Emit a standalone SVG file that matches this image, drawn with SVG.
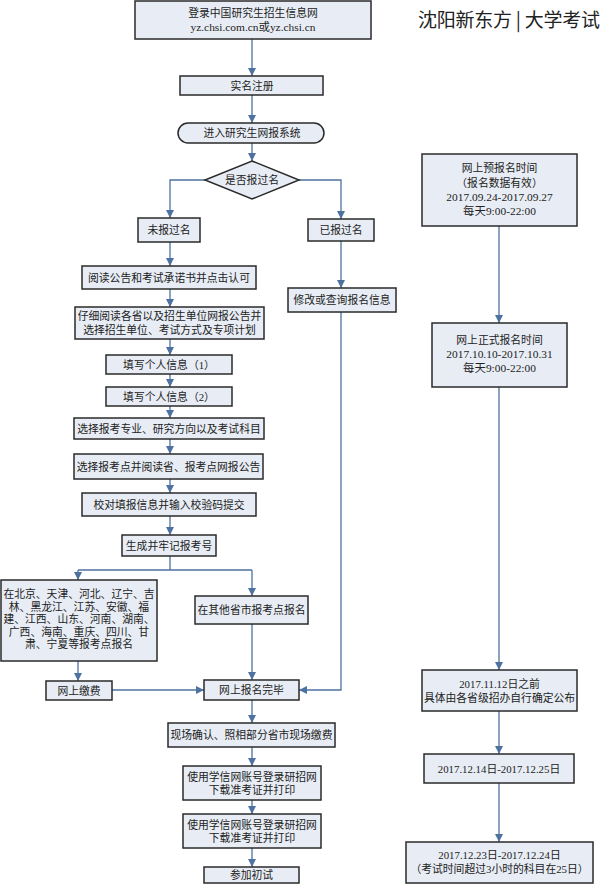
<svg xmlns="http://www.w3.org/2000/svg" width="608" height="884" viewBox="0 0 608 884">
<defs>
<marker id="ah" markerWidth="8" markerHeight="8" refX="8" refY="4" orient="auto" markerUnits="userSpaceOnUse">
<path d="M0,0 L8,4 L0,8 z" fill="#4d72a0"/>
</marker>
<style>
.b{fill:#e8edf5;stroke:#2a2a2a;stroke-width:1.5}
.t{font-family:"Liberation Serif","Noto Sans CJK SC",serif;font-size:10.8px;fill:#222;text-anchor:middle;dominant-baseline:central}
.l{font-size:11.4px}
.c{fill:none;stroke:#4d72a0;stroke-width:1.3}
.a{marker-end:url(#ah)}
</style>
</defs>
<rect width="608" height="884" fill="#fff"/>
<text x="418" y="27" font-family="'Noto Sans CJK SC',sans-serif" font-size="19" fill="#222" textLength="182">沈阳新东方 | 大学考试</text>
<g id="connectors">
<path class="c a" d="M252,39 V76"/>
<path class="c a" d="M252,95 V123"/>
<path class="c a" d="M252,143 V161"/>
<path class="c a" d="M205,180 H170 V218"/>
<path class="c a" d="M299,180 H341 V219"/>
<path class="c a" d="M170,242 V266"/>
<path class="c a" d="M341,241 V288"/>
<path class="c a" d="M170,289 V307"/>
<path class="c a" d="M170,339 V355"/>
<path class="c a" d="M170,374 V387"/>
<path class="c a" d="M170,406 V418"/>
<path class="c a" d="M170,439 V454"/>
<path class="c a" d="M170,479 V493"/>
<path class="c a" d="M170,516 V535"/>
<path class="c" d="M170,556 V570 M78,570 H252"/>
<path class="c a" d="M78,570 V580"/>
<path class="c a" d="M252,570 V596"/>
<path class="c a" d="M78,661 V681"/>
<path class="c a" d="M252,624 V680"/>
<path class="c a" d="M112,690 H204"/>
<path class="c a" d="M341,312 V690 H299"/>
<path class="c a" d="M252,700 V723"/>
<path class="c a" d="M252,747 V766"/>
<path class="c a" d="M252,800 V814"/>
<path class="c a" d="M252,848 V867"/>
<path class="c a" d="M499,226 V323"/>
<path class="c a" d="M499,387 V670"/>
<path class="c a" d="M499,711 V754"/>
<path class="c a" d="M499,783 V842"/>
</g>
<g id="n1"><rect class="b" x="135" y="1" width="236" height="38"/><text class="t" x="253" y="13">登录中国研究生招生信息网</text><text class="t l" x="253" y="27">yz.chsi.com.cn或yz.chsi.cn</text></g>
<g id="n2"><rect class="b" x="180" y="76" width="143" height="19"/><text class="t" x="252" y="85.5">实名注册</text></g>
<g id="n3"><rect class="b" x="178" y="123" width="146" height="20" rx="10"/><text class="t" x="252" y="133">进入研究生网报系统</text></g>
<g id="n4"><polygon class="b" points="252,161 299,180 252,199 205,180"/><text class="t" x="252" y="180">是否报过名</text></g>
<g id="n5"><rect class="b" x="138" y="218" width="62" height="24"/><text class="t" x="169" y="230">未报过名</text></g>
<g id="n6"><rect class="b" x="308" y="219" width="66" height="22"/><text class="t" x="341" y="230">已报过名</text></g>
<g id="n7"><rect class="b" x="82" y="266" width="174" height="23"/><text class="t" x="169" y="277.5">阅读公告和考试承诺书并点击认可</text></g>
<g id="n8"><rect class="b" x="288" y="288" width="108" height="24"/><text class="t" x="342" y="300">修改或查询报名信息</text></g>
<g id="n9"><rect class="b" x="75" y="307" width="189" height="32"/><text class="t" x="169.5" y="315.5">仔细阅读各省以及招生单位网报公告并</text><text class="t" x="169.5" y="329.5">选择招生单位、考试方式及专项计划</text></g>
<g id="n10"><rect class="b" x="106" y="355" width="126" height="19"/><text class="t" x="169" y="364.5">填写个人信息（1）</text></g>
<g id="n11"><rect class="b" x="106" y="387" width="126" height="19"/><text class="t" x="169" y="396.5">填写个人信息（2）</text></g>
<g id="n12"><rect class="b" x="74" y="418" width="190" height="21"/><text class="t" x="169" y="428.5">选择报考专业、研究方向以及考试科目</text></g>
<g id="n13"><rect class="b" x="74" y="454" width="189" height="25"/><text class="t" x="168.5" y="466.5">选择报考点并阅读省、报考点网报公告</text></g>
<g id="n14"><rect class="b" x="82" y="493" width="174" height="23"/><text class="t" x="169" y="504.5">校对填报信息并输入校验码提交</text></g>
<g id="n15"><rect class="b" x="122" y="535" width="94" height="21"/><text class="t" x="169" y="545.5">生成并牢记报考号</text></g>
<g id="n16"><rect class="b" x="1" y="580" width="156" height="81"/><text class="t" x="79" y="594">在北京、天津、河北、辽宁、吉</text><text class="t" x="79" y="606.5">林、黑龙江、江苏、安徽、福</text><text class="t" x="79" y="619">建、江西、山东、河南、湖南、</text><text class="t" x="79" y="631.5">广西、海南、重庆、四川、甘</text><text class="t" x="79" y="644">肃、宁夏等报考点报名</text></g>
<g id="n17"><rect class="b" x="195" y="596" width="113" height="28"/><text class="t" x="251.5" y="610">在其他省市报考点报名</text></g>
<g id="n18"><rect class="b" x="46" y="681" width="66" height="19"/><text class="t" x="79" y="690.5">网上缴费</text></g>
<g id="n19"><rect class="b" x="204" y="680" width="95" height="20"/><text class="t" x="251.5" y="690">网上报名完毕</text></g>
<g id="n20"><rect class="b" x="168" y="723" width="167" height="24"/><text class="t" x="251.5" y="735">现场确认、照相部分省市现场缴费</text></g>
<g id="n21"><rect class="b" x="183" y="766" width="138" height="34"/><text class="t" x="252" y="776.5">使用学信网账号登录研招网</text><text class="t" x="252" y="790">下载准考证并打印</text></g>
<g id="n22"><rect class="b" x="183" y="814" width="138" height="34"/><text class="t" x="252" y="824.5">使用学信网账号登录研招网</text><text class="t" x="252" y="838">下载准考证并打印</text></g>
<g id="n23"><rect class="b" x="204" y="867" width="95" height="16"/><text class="t" x="251.5" y="875">参加初试</text></g>
<g id="r1"><rect class="b" x="422" y="154" width="155" height="72"/><text class="t" x="499.5" y="168">网上预报名时间</text><text class="t" x="499.5" y="183">（报名数据有效）</text><text class="t l" x="499.5" y="197">2017.09.24-2017.09.27</text><text class="t l" x="499.5" y="211">每天9:00-22:00</text></g>
<g id="r2"><rect class="b" x="432" y="323" width="135" height="64"/><text class="t" x="499.5" y="340">网上正式报名时间</text><text class="t l" x="499.5" y="354">2017.10.10-2017.10.31</text><text class="t l" x="499.5" y="368">每天9:00-22:00</text></g>
<g id="r3"><rect class="b" x="422" y="670" width="155" height="41"/><text class="t" x="499.5" y="683.5">2017.11.12日之前</text><text class="t" x="499.5" y="697.5">具体由各省级招办自行确定公布</text></g>
<g id="r4"><rect class="b" x="424" y="754" width="150" height="29"/><text class="t" x="499" y="768.5">2017.12.14日-2017.12.25日</text></g>
<g id="r5"><rect class="b" x="406" y="842" width="187" height="41"/><text class="t" x="499.5" y="855">2017.12.23日-2017.12.24日</text><text class="t" x="499.5" y="869">（考试时间超过3小时的科目在25日）</text></g>
</svg>
